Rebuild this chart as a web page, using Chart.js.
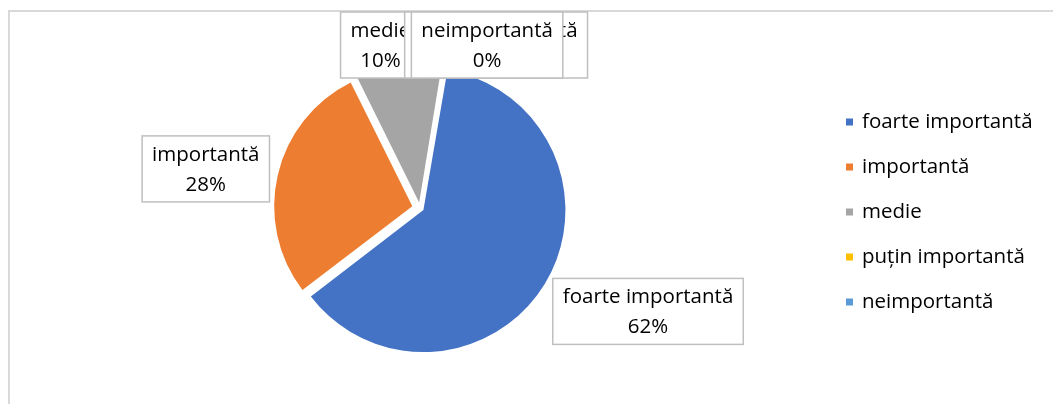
<!DOCTYPE html>
<html>
<head>
<meta charset="utf-8">
<script src="https://cdn.jsdelivr.net/npm/chart.js@4.4.1/dist/chart.umd.min.js"></script>
<style>
  body { margin: 0; background: #fff; }
  #wrap { position: relative; width: 1053px; height: 404px; overflow: hidden; }
  #frame { position: absolute; left: 8px; top: 10px; width: 1200px; height: 600px; border: 2px solid #d9d9d9; }
  #chart { position: absolute; left: 0; top: 0; }
</style>
</head>
<body>
<div id="wrap">
  <div id="frame"></div>
  <canvas id="chart" width="1053" height="404"></canvas>
</div>
<script>
const categories = ["foarte importantă", "importantă", "medie", "puțin importantă", "neimportantă"];
const shares = [62, 28, 10, 0, 0];
const colors = ["#4472C4", "#ED7D31", "#A5A5A5", "#FFC000", "#5B9BD5"];

const FONT = '20.5px "Open Sans"';
const explode = 8;
// where each data label box sits, relative to its slice's outer edge
const labelNudge = [[103, 28], [-72, -6], [-18, -20], [52, -20], [43, -20]];

// chart.js moves an arc by offset/4*(1+fix), so undo that to get the same gap everywhere
const arcOffset = (c) => {
  const circ = shares[c.dataIndex] / 100 * Math.PI * 2;
  const fix = 1 - Math.sin(Math.min(Math.PI, circ));
  return 4 * explode / (1 + fix);
};

const labelBoxes = {
  id: "labelBoxes",
  afterDatasetsDraw(chart) {
    const ctx = chart.ctx;
    const meta = chart.getDatasetMeta(0);
    ctx.save();
    ctx.font = FONT;
    ctx.textAlign = "center";
    ctx.textBaseline = "middle";
    meta.data.forEach((arc, i) => {
      const p = arc.getProps(["x", "y", "startAngle", "endAngle", "outerRadius"], true);
      const mid = (p.startAngle + p.endAngle) / 2;
      const r = p.outerRadius + explode;
      const ax = p.x + Math.cos(mid) * r;
      const ay = p.y + Math.sin(mid) * r;
      const lines = [categories[i], shares[i] + "%"];
      const w = Math.max(...lines.map(t => ctx.measureText(t).width)) + 20;
      const h = 66;
      const cx = ax + labelNudge[i][0];
      let top = ay + labelNudge[i][1] - h / 2;
      top = Math.max(top, 12);
      const left = Math.max(cx - w / 2, 12);
      ctx.fillStyle = "#fff";
      ctx.fillRect(left, top, w, h);
      ctx.strokeStyle = "#bfbfbf";
      ctx.lineWidth = 1.5;
      ctx.strokeRect(left, top, w, h);
      ctx.fillStyle = "#000";
      ctx.fillText(lines[0], left + w / 2, top + h / 2 - 14);
      ctx.fillText(lines[1], left + w / 2, top + h / 2 + 16);
    });
    ctx.restore();
  }
};

const sideLegend = {
  id: "sideLegend",
  afterDraw(chart) {
    const ctx = chart.ctx;
    ctx.save();
    ctx.font = FONT;
    ctx.textBaseline = "middle";
    categories.forEach((name, i) => {
      const y = 122 + i * 45;
      ctx.fillStyle = colors[i];
      ctx.fillRect(846, y - 3.5, 7, 7);
      ctx.fillStyle = "#000";
      ctx.fillText(name, 862, y);
    });
    ctx.restore();
  }
};

new Chart(document.querySelector("#chart"), {
  type: "pie",
  data: {
    labels: categories,
    datasets: [{
      data: shares,
      backgroundColor: colors,
      borderWidth: 0,
      offset: arcOffset,
      hoverOffset: 0
    }]
  },
  options: {
    responsive: false,
    animation: false,
    rotation: 9.5,
    radius: 138,
    layout: { padding: { top: 12, left: 0, right: 213, bottom: 0 } },
    plugins: {
      legend: { display: false },
      tooltip: { enabled: false }
    }
  },
  plugins: [labelBoxes, sideLegend]
});
</script>
</body>
</html>
